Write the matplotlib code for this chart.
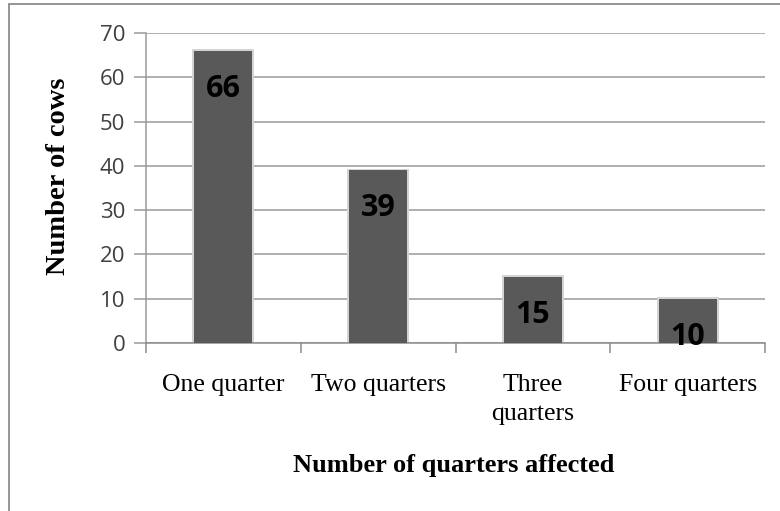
import matplotlib
matplotlib.use("Agg")
import matplotlib.pyplot as plt
from matplotlib.patches import Rectangle

categories = ["One quarter", "Two quarters", "Three\nquarters", "Four quarters"]
cows = [66, 39, 15, 10]
yticks = [0, 10, 20, 30, 40, 50, 60, 70]

W, H = 780, 511
fig = plt.figure(figsize=(W / 100, H / 100), dpi=100)
fig.patch.set_facecolor("white")

# axes box in pixel coordinates
left, right, top, bottom = 146, 765, 33, 343
ax = fig.add_axes([left / W, 1 - bottom / H, (right - left) / W, (bottom - top) / H])

# outer chart border (only left/top edges fall inside the image)
fig.add_artist(Rectangle((9 / W, -0.1), 1.2, 1 - 4 / H + 0.1, transform=fig.transFigure,
                         fill=False, edgecolor="#8c8c8c", linewidth=1.3))

x = range(len(categories))
bw = 0.375
# soft shadow behind each bar
ax.bar(x, [v + 0.35 for v in cows], width=bw + 0.025, color="#d4d4d4", zorder=2)
ax.bar(x, cows, width=bw, color="#595959", zorder=3)

for i, v in enumerate(cows):
    ax.annotate(str(v), (i, v), xytext=(0, -27.5), textcoords="offset points",
                ha="center", va="center", fontsize=22, fontweight="bold",
                family=["Open Sans", "DejaVu Sans"], color="black", zorder=5)

ax.set_xlim(-0.5, len(categories) - 0.5)
ax.set_ylim(0, 70)
ax.set_yticks(yticks)
ax.set_yticklabels([str(t) for t in yticks], family=["Open Sans", "DejaVu Sans"],
                   fontsize=16, color="#404040")
ax.yaxis.grid(True, color="#9a9a9a", linewidth=1.1, zorder=0)
ax.set_axisbelow(True)

ax.set_xticks([i + 0.5 for i in range(-1, len(categories))], minor=True)
ax.set_xticks(list(x))
ax.set_xticklabels(categories, family="Liberation Serif", fontsize=18.5, linespacing=1.45)
ax.tick_params(axis="x", which="major", length=0, pad=22)
ax.tick_params(axis="x", which="minor", length=7, color="#8c8c8c", width=1.1)
ax.tick_params(axis="y", length=9, color="#9a9a9a", width=1.1, pad=6)

for s in ["top", "right"]:
    ax.spines[s].set_visible(False)
ax.spines["left"].set_color("#9a9a9a")
ax.spines["left"].set_linewidth(1.1)
ax.spines["bottom"].set_color("#8c8c8c")
ax.spines["bottom"].set_linewidth(1.1)

fig.text(59 / W, 1 - 176 / H, "Number of cows", rotation=90, ha="center", va="center",
         family="Liberation Serif", fontweight="bold", fontsize=20.5)
fig.text(454 / W, 1 - 465 / H, "Number of quarters affected", ha="center", va="center",
         family="Liberation Serif", fontweight="bold", fontsize=19)

fig.savefig("out.png", dpi=100)
